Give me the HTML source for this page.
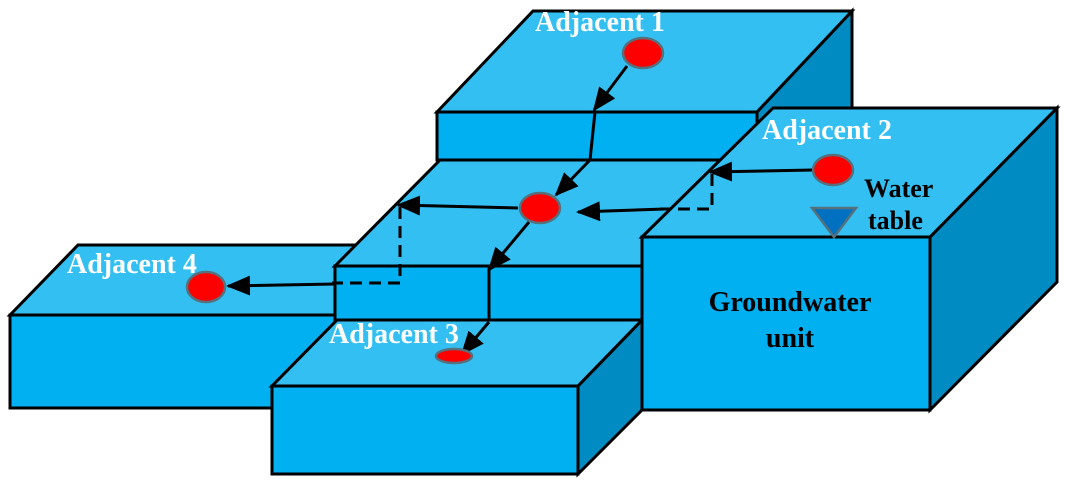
<!DOCTYPE html>
<html><head><meta charset="utf-8"><style>html,body{margin:0;padding:0;background:#fff}svg{display:block}</style></head><body>
<svg width="1067" height="486" viewBox="0 0 1067 486" xmlns="http://www.w3.org/2000/svg">
<defs>
<marker id="b" markerWidth="24" markerHeight="20" refX="22" refY="10" orient="auto" markerUnits="userSpaceOnUse"><path d="M0,0 L24,10 L0,20 z" fill="#000"/></marker></defs>
<g stroke="#000" stroke-width="3" stroke-linejoin="miter">
<!-- box1 -->
<polygon points="757,112 852,11 852,108 757,210" fill="#008cc2"/>
<polygon points="437,112 533,11 852,11 757,112" fill="#33bff2"/>
<rect x="437" y="112" width="320" height="48" fill="#00b0f0"/>
<!-- box4 -->
<polygon points="10,315 78,245 420,245 350,315" fill="#33bff2"/>
<rect x="10" y="315" width="340" height="93" fill="#00b0f0"/>
<!-- center -->
<polygon points="335,266 440,160 745,160 642,266" fill="#33bff2"/>
<rect x="335" y="266" width="307" height="56" fill="#00b0f0"/>
<line x1="489" y1="266" x2="489" y2="322"/>
<!-- box3 -->
<polygon points="578,386 642,320 642,410 578,474" fill="#008cc2"/>
<polygon points="272,386 337,320 642,320 578,386" fill="#33bff2"/>
<rect x="272" y="386" width="306" height="88" fill="#00b0f0"/>
<!-- groundwater -->
<polygon points="930,237 1057,108 1057,282 930,410" fill="#008cc2"/>
<polygon points="642,237 773,108 1057,108 930,237" fill="#33bff2"/>
<rect x="642" y="237" width="288" height="173" fill="#00b0f0"/>
</g>
<g stroke="#000" stroke-width="3" fill="none">
<line x1="627" y1="66" x2="594" y2="110" marker-end="url(#b)"/>
<polyline points="595,112 590,160 556,195" marker-end="url(#b)"/>
<line x1="529" y1="222" x2="489" y2="270" marker-end="url(#b)"/>
<line x1="489" y1="322" x2="462" y2="354" marker-end="url(#b)"/>
<line x1="518" y1="208" x2="398" y2="205" marker-end="url(#b)"/>
<polyline points="400,207 400,283 332,283" stroke-dasharray="12,7"/>
<line x1="335" y1="284" x2="228" y2="286" marker-end="url(#b)"/>
<line x1="813" y1="170" x2="710" y2="172" marker-end="url(#b)"/>
<polyline points="712,174 712,209 660,209" stroke-dasharray="12,7"/>
<line x1="665" y1="209" x2="578" y2="212" marker-end="url(#b)"/>
</g>
<g fill="#ff0000" stroke="#56707c" stroke-width="2.5">
<ellipse cx="643" cy="53" rx="20" ry="15"/>
<ellipse cx="540" cy="208" rx="20" ry="15"/>
<ellipse cx="833" cy="170" rx="20" ry="15"/>
<ellipse cx="206" cy="287" rx="19" ry="15"/>
<ellipse cx="454" cy="356" rx="18" ry="7"/>
</g>
<polygon points="812,208 856,208 834,237" fill="#0070c0" stroke="#56707c" stroke-width="2.5"/>
<g font-family="Liberation Serif, serif" font-weight="bold" font-size="28">
<g fill="#fff">
<text x="535" y="31">Adjacent 1</text>
<text x="762" y="139">Adjacent 2</text>
<text x="67" y="273">Adjacent 4</text>
<text x="329" y="343">Adjacent 3</text>
</g>
<g fill="#000">
<text x="864" y="197" font-size="26">Water</text>
<text x="868" y="229" font-size="26">table</text>
<text x="790" y="311" text-anchor="middle">Groundwater</text>
<text x="790" y="347" text-anchor="middle">unit</text>
</g>
</g>
</svg>
</body></html>
